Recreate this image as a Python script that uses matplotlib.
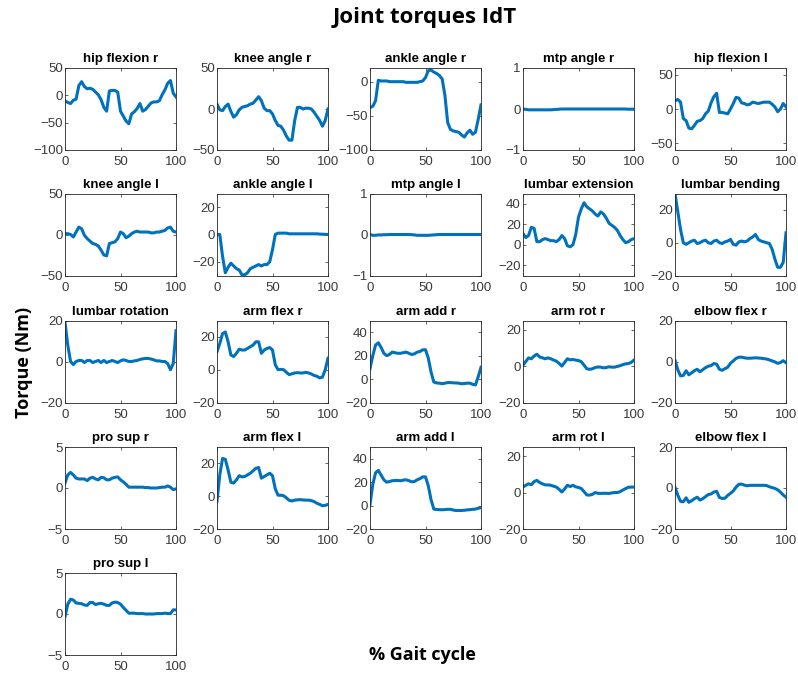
import numpy as np
import matplotlib
matplotlib.use("Agg")
import matplotlib.pyplot as plt

# Percent of gait cycle at which each torque sample is taken
gait = np.arange(0, 100.1, 2.5)

hip_flexion_r = [-10, -13, -15, -9, -7, 18, 25, 16, 12, 13, 11, 6, 1, -8, -22, -29, 8, 9, 9, 6,
                 -29, -38, -47, -52, -34, -30, -24, -15, -29, -26, -20, -14, -12, -12, -10, 1, 10, 22, 27, 4, -3]
knee_angle_r = [6, -1, -2, 3, 6, -3, -10, -7, -1, 2, 3, 4, 6, 7, 11, 15, 10, 1, -2, -2,
                -6, -14, -20, -21, -26, -33, -38, -38, -14, 2, 2, 0, 1, 1, 0, -4, -9, -14, -21, -14, 0]
ankle_angle_r = [-38, -36, -28, 2, 1, 1, 1, 0, 0, 0, 0, 0, 0, -1, -1, -1, -1, -1, 0, 1,
                 6, 16, 17, 14, 12, 9, 4, -20, -60, -70, -72, -73, -74, -78, -81, -75, -71, -77, -74, -55, -34]
mtp_angle_r = [0, -0.01, -0.02, -0.02, -0.02, -0.02, -0.02, -0.02, -0.02, -0.02, -0.02, -0.015, -0.01, -0.005,
               0, 0, 0, 0, 0, 0, 0, 0, 0, 0, 0, 0, 0, 0, 0, 0, 0, 0, 0, 0, 0, 0, 0, 0, -0.005, -0.005, -0.005]
hip_flexion_l = [12, 14, 10, -14, -17, -28, -29, -24, -18, -17, -14, -7, -3, 9, 18, 23, -5, -5, -6, -7,
                 0, 8, 17, 16, 9, 8, 6, 7, 10, 9, 8, 9, 10, 10, 10, 7, 3, -4, 0, 8, 3]
knee_angle_l = [1, 1, 0, -3, 3, 9, 7, -1, -5, -8, -11, -12, -14, -19, -25, -26, -11, -10, -9, -5,
                3, 1, -4, -2, 1, 3, 4, 3, 3, 3, 3, 2, 2, 3, 3, 4, 5, 8, 9, 4, 3]
ankle_angle_l = [0, 0, -16, -28, -24, -21, -23, -25, -26, -29.5, -29.5, -28, -25, -24, -23, -22, -23, -22, -22, -20,
                 -11, 0, 1, 1, 1, 1, 0.5, 0.5, 0.5, 0.5, 0.5, 0.5, 0.5, 0.5, 0.5, 0.5, 0.5, 0.3, 0.2, 0.1, 0]
mtp_angle_l = [0, -0.02, -0.02, -0.01, -0.01, -0.005, -0.005, 0, 0, 0, 0, 0, 0, 0, 0, -0.005, -0.01, -0.02, -0.02, -0.02,
               -0.02, -0.02, -0.015, -0.01, -0.005, 0, 0, 0, 0, 0, 0, 0, 0, 0, 0, 0, 0, 0, 0, 0, 0]
lumbar_extension = [11, 7, 9, 17, 16, 3, 3, 5, 6, 5, 4, 4, 3, 5, 9, 6, -1, -2, 0, 10,
                    27, 35, 41, 37, 35, 33, 30, 28, 32, 30, 26, 21, 19, 17, 14, 9, 5, 2, 3, 5, 6]
lumbar_bending = [30, 19, 8, 0, -1, 0, 1, 1.5, -0.5, 0, 1, 1.5, 0, -0.5, 1, 1.5, 0, -0.5, 0.5, 1,
                  2, -1, -1.5, 0.5, 1, 0.5, 1, 2.5, 3.5, 5, 2, 1, 0.5, 0, -0.5, -4, -10, -15, -15, -12, 6]
lumbar_rotation = [19, 8, 0, -1.5, 0, 0.5, 0.5, -0.5, 0.5, 0.5, -0.5, 0, 0.5, -0.5, 0.5, -0.5, 0, 0.5, 0, -0.5,
                   0.3, 0.8, 0.5, 0, 0, 0.3, 0.5, 1, 1.3, 1.5, 1.5, 1.2, 0.8, 0.3, 0.3, 0, 0, -1, -4, -1, 15]
arm_flex_r = [11, 16, 22, 23, 17, 9, 8, 10, 12.5, 12, 12, 13, 14, 15, 17, 17, 10, 12, 13, 13.5,
              12, 3, 0, 0.2, 0, -1.6, -3, -2.5, -2, -1.8, -2, -2, -1.6, -2, -2.6, -3.5, -4, -5, -4.5, 0, 7]
arm_add_r = [9, 20, 29, 31, 27, 22, 20, 21, 23, 22.5, 22, 22, 22.5, 23, 22, 21, 21.5, 23, 23.5, 25,
             25, 18, 6, -2.5, -3.3, -3.5, -4, -3.5, -3, -3, -3.2, -3.3, -3.5, -4, -3.8, -3.5, -3.5, -4.5, -5, 2, 10]
arm_rot_r = [0.5, 2.5, 4.5, 4, 5.5, 6.5, 5, 4.5, 4, 4.5, 4, 3.3, 2.7, 1.5, 0, 2, 4, 3.4, 3.6, 3.3,
             3, 2.4, 0.5, -1.5, -1.8, -1.5, -0.8, -0.5, -0.6, -1, -0.8, -0.4, -0.6, -0.6, -0.2, 0.2, 0.8, 1.2, 1.4, 2, 3.3]
elbow_flex_r = [0.5, -4, -7, -6.8, -4.5, -6.5, -5.5, -4.5, -3.8, -5, -4, -3, -2.3, -2, -1, -1.3, -3.8, -4.3, -3.5, -2.8,
                -0.8, 0.3, 1.5, 2.1, 2.1, 1.8, 1.6, 1.6, 1.7, 1.8, 1.7, 1.6, 1.4, 1.2, 0.8, 0.3, -0.2, -0.9, -0.5, 0.4, -0.6]
pro_sup_r = [0.6, 1.6, 1.9, 1.6, 1.2, 1.1, 1.1, 1.1, 0.9, 1.2, 1.3, 1.1, 1, 1.3, 1.25, 1, 1, 1.2, 1.3, 1.35,
             1, 0.75, 0.45, 0.1, 0.1, 0.1, 0.1, 0.1, 0.1, 0.05, 0.05, 0, 0, 0, 0.05, 0.1, 0.1, 0.25, 0.1, -0.2, -0.1]
arm_flex_l = [-3, 13, 23, 22.5, 16, 8.5, 8, 10, 12.5, 11.8, 12, 13, 14, 15.5, 17, 17.5, 11, 12, 13, 14,
              12.5, 4.5, 0.6, 0.6, 0.3, -1, -2.5, -2.9, -2.4, -2.2, -2.1, -2.3, -2.4, -2.4, -2.7, -3.3, -4.3, -5, -5.8, -5.6, -5]
arm_add_l = [1, 18, 28, 30, 26, 22, 20, 20.5, 21.2, 21.4, 21.4, 21.2, 21.7, 22, 21.3, 20.3, 20.5, 22, 23, 24.5,
             24.5, 17, 5, -3, -3.3, -3.5, -3.6, -3.4, -3.2, -3.2, -3.8, -4.2, -4.2, -4.2, -4, -3.7, -3.5, -3.2, -3, -2.3, -1.7]
arm_rot_l = [3, 4, 4.8, 4.3, 6, 6.7, 5.5, 4.8, 4.2, 4.2, 4, 3.5, 3, 1.8, 0.3, 2, 4, 3.3, 4, 3.1,
             2.8, 2.2, 0.5, -1.3, -1.4, -1, 0, -0.4, -0.5, -0.4, -0.4, -0.5, -0.2, 0, 0, 0.5, 1.4, 2.2, 2.9, 3, 3]
elbow_flex_l = [0.3, -3.5, -6.5, -6.7, -4.8, -7, -6.2, -5.2, -4.5, -5.9, -5.2, -4.2, -3.2, -2.9, -2, -1.6, -4.6, -5.1, -5, -3.6,
                -2.6, -1.4, 0.4, 1.8, 1.9, 1.4, 1.1, 1.3, 1.3, 1.3, 1.3, 1.3, 1.3, 1.2, 0.6, 0.2, -0.2, -0.9, -2, -3.4, -4.5]
pro_sup_l = [-0.3, 1.2, 1.8, 1.7, 1.35, 1.3, 1.25, 1.1, 1.05, 1.4, 1.4, 1.15, 1.25, 1.3, 1.2, 1.05, 1.05, 1.35, 1.45, 1.4,
             1.2, 0.8, 0.45, 0.1, 0.1, 0.1, 0.05, 0.05, 0.05, 0, 0, 0, 0, 0.05, 0.05, 0.05, 0.1, 0.05, 0.05, 0.5, 0.5]

titles = ["hip flexion r", "knee angle r", "ankle angle r", "mtp angle r", "hip flexion l",
          "knee angle l", "ankle angle l", "mtp angle l", "lumbar extension", "lumbar bending",
          "lumbar rotation", "arm flex r", "arm add r", "arm rot r", "elbow flex r",
          "pro sup r", "arm flex l", "arm add l", "arm rot l", "elbow flex l",
          "pro sup l"]
series = [hip_flexion_r, knee_angle_r, ankle_angle_r, mtp_angle_r, hip_flexion_l,
          knee_angle_l, ankle_angle_l, mtp_angle_l, lumbar_extension, lumbar_bending,
          lumbar_rotation, arm_flex_r, arm_add_r, arm_rot_r, elbow_flex_r,
          pro_sup_r, arm_flex_l, arm_add_l, arm_rot_l, elbow_flex_l,
          pro_sup_l]
y_limits = [(-100, 50), (-50, 50), (-100, 20), (-1, 1), (-60, 60),
            (-50, 50), (-30, 30), (-1, 1), (-30, 50), (-20, 30),
            (-20, 20), (-20, 30), (-20, 50), (-20, 25), (-20, 20),
            (-5, 5), (-20, 30), (-20, 50), (-20, 25), (-20, 20),
            (-5, 5)]
y_ticks = [[-100, -50, 0, 50], [-50, 0, 50], [-100, -50, 0], [-1, 0, 1], [-50, 0, 50],
           [-50, 0, 50], [-20, 0, 20], [-1, 0, 1], [-20, 0, 20, 40], [-20, 0, 20],
           [-20, 0, 20], [-20, 0, 20], [-20, 0, 20, 40], [-20, 0, 20], [-20, 0, 20],
           [-5, 0, 5], [-20, 0, 20], [-20, 0, 20, 40], [-20, 0, 20], [-20, 0, 20],
           [-5, 0, 5]]

W, H = 798, 673
fig = plt.figure(figsize=(W / 100, H / 100), dpi=100)
fig.patch.set_facecolor("white")

col_left = [65, 217, 370, 523, 675]
row_top = [68, 193.5, 320.5, 447, 573]
ax_w, ax_h = 111, 82
line_color = "#0072BD"
axis_color = "#262626"
label_color = "#3a3a3a"
tick_font = "Liberation Sans"

for i, (name, vals) in enumerate(zip(titles, series)):
    r, c = divmod(i, 5)
    ax = fig.add_axes([col_left[c] / W, 1 - (row_top[r] + ax_h) / H, ax_w / W, ax_h / H])
    ax.plot(gait, vals, color=line_color, lw=2.2, solid_joinstyle="round")
    ax.set_xlim(0, 100)
    ax.set_ylim(*y_limits[i])
    ax.set_xticks([0, 50, 100])
    ax.set_yticks(y_ticks[i])
    ax.tick_params(direction="in", length=2, width=0.5, colors=axis_color,
                   labelsize=9.5, labelcolor=label_color)
    ax.tick_params(axis="x", pad=4.5)
    ax.tick_params(axis="y", pad=1.5)
    ax.tick_params(top=True, right=True)
    for lab in ax.get_xticklabels() + ax.get_yticklabels():
        lab.set_fontfamily(tick_font)
    for sp in ax.spines.values():
        sp.set_color(axis_color)
        sp.set_linewidth(0.6)
    ax.set_title(name, fontsize=9.5, fontweight="bold", fontfamily=tick_font, pad=4, color="black")

fig.text(425 / W, 1 - 18 / H, "Joint torques IdT", ha="center", va="center",
         fontsize=16, fontweight="bold", fontfamily="Open Sans")
fig.text(24 / W, 1 - 362 / H, "Torque (Nm)", ha="center", va="center", rotation=90,
         fontsize=13, fontweight="bold", fontfamily="Open Sans")
fig.text(422 / W, 1 - 655 / H, "% Gait cycle", ha="center", va="center",
         fontsize=13, fontweight="bold", fontfamily="Open Sans")

fig.savefig("out.png", dpi=100, facecolor="white")
